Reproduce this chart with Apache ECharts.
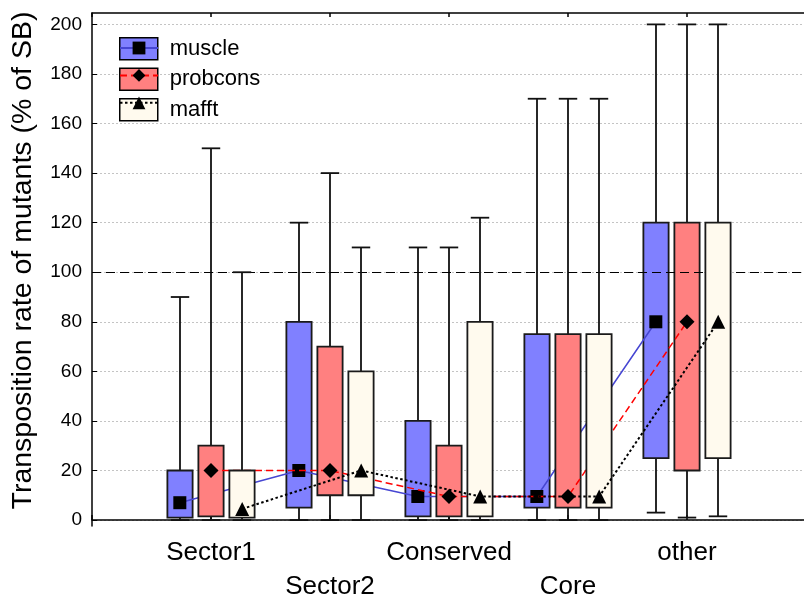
<!DOCTYPE html>
<html>
<head>
<meta charset="utf-8">
<script src="https://cdn.jsdelivr.net/npm/echarts@6/dist/echarts.min.js"></script>
<style>html,body{margin:0;padding:0;background:#fff;overflow:hidden;}#chart{width:804px;height:598px;}</style>
</head>
<body>
<div id="chart"></div>
<script>
// ---- data ----
var categories = ['Sector1', 'Sector2', 'Conserved', 'Core', 'other'];
var yTicks = [0, 20, 40, 60, 80, 100, 120, 140, 160, 180, 200];
var referenceLine = 100;

var muscleLow  = [0, 0, 0, 0, 3];
var muscleQ1   = [1, 5, 1.5, 5, 25];
var muscleMed  = [7, 20, 9.5, 9.5, 80];
var muscleQ3   = [20, 80, 40, 75, 120];
var muscleHigh = [90, 120, 110, 170, 200];

var probconsLow  = [0, 0, 0, 0, 1];
var probconsQ1   = [1.5, 10, 1.5, 5, 20];
var probconsMed  = [20, 20, 9.5, 9.5, 80];
var probconsQ3   = [30, 70, 30, 75, 120];
var probconsHigh = [150, 140, 110, 170, 200];

var mafftLow  = [0, 0, 0, 0, 1.5];
var mafftQ1   = [1, 10, 1.5, 5, 25];
var mafftMed  = [4.5, 20, 9.5, 9.5, 80];
var mafftQ3   = [20, 60, 80, 75, 120];
var mafftHigh = [100, 110, 122, 170, 200];

// ---- layout / style ----
var FONT = 'Liberation Sans, Arial, Helvetica, sans-serif';
var OFFSETS = [-0.262, 0, 0.262];
var BOX_W = 0.212;
var CAP_W = 0.155;

function boxSeries(name, k, low, q1, q3, high, color, z) {
  return {
    type: 'custom',
    name: name,
    z: z,
    itemStyle: { color: color, borderColor: '#000', borderWidth: 1.5 },
    data: categories.map(function (c, i) { return [i + 1 + OFFSETS[k], low[i], q1[i], q3[i], high[i]]; }),
    encode: { x: 0, y: [1, 2, 3, 4] },
    renderItem: function (params, api) {
      var x = api.value(0);
      var pL = api.coord([x, api.value(1)]);
      var p1 = api.coord([x, api.value(2)]);
      var p3 = api.coord([x, api.value(3)]);
      var pH = api.coord([x, api.value(4)]);
      var hw = api.size([BOX_W, 0])[0] / 2;
      var cw = api.size([CAP_W, 0])[0] / 2;
      var cx = Math.round(pL[0]);
      var st = { stroke: '#111', lineWidth: 1.8 };
      return {
        type: 'group',
        children: [
          { type: 'line', shape: { x1: cx, y1: pL[1], x2: cx, y2: pH[1] }, style: st },
          { type: 'line', shape: { x1: cx - cw, y1: pL[1], x2: cx + cw, y2: pL[1] }, style: st },
          { type: 'line', shape: { x1: cx - cw, y1: pH[1], x2: cx + cw, y2: pH[1] }, style: st },
          { type: 'rect', shape: { x: cx - hw, y: p3[1], width: 2 * hw, height: p1[1] - p3[1] },
            style: { fill: color, stroke: '#1a1a1a', lineWidth: 1.8 } }
        ]
      };
    }
  };
}

function medianSeries(name, k, med, lineColor, lineType, lineWidth, symbol, symbolSize, z) {
  return {
    type: 'line',
    name: name,
    z: z,
    data: categories.map(function (c, i) { return [i + 1 + OFFSETS[k], med[i]]; }),
    symbol: symbol,
    symbolSize: symbolSize,
    showAllSymbol: true,
    itemStyle: { color: '#000' },
    lineStyle: { color: lineColor, type: lineType, width: lineWidth },
    animation: false
  };
}

var series = [
  {
    type: 'line', name: 'ref', data: [], z: 1, silent: true,
    markLine: {
      silent: true, symbol: ['none', 'none'], label: { show: false },
      lineStyle: { color: '#000', type: [9, 5], width: 1 },
      data: [{ yAxis: referenceLine }]
    }
  },
  boxSeries('muscle', 0, muscleLow, muscleQ1, muscleQ3, muscleHigh, '#8080ff', 2),
  medianSeries('muscle median', 0, muscleMed, '#4646d2', 'solid', 1.5, 'rect', 13, 3),
  boxSeries('probcons', 1, probconsLow, probconsQ1, probconsQ3, probconsHigh, '#ff8080', 4),
  medianSeries('probcons median', 1, probconsMed, '#ff0000', [7, 4], 1.5, 'diamond', 15, 5),
  boxSeries('mafft', 2, mafftLow, mafftQ1, mafftQ3, mafftHigh, '#fffaee', 6),
  medianSeries('mafft median', 2, mafftMed, '#000', [2.5, 2.5], 2, 'triangle', 14, 7)
];

var chart = echarts.init(document.getElementById('chart'), null, { renderer: 'canvas' });
chart.setOption({
  animation: false,
  backgroundColor: '#fff',
  textStyle: { fontFamily: FONT },
  grid: { left: 92, right: -2, top: 13, bottom: 72, containLabel: false, outerBoundsMode: 'none' },
  legend: [
    {
      left: 119, top: 37, orient: 'vertical', padding: 0, z: 20,
      itemWidth: 38, itemHeight: 22, itemGap: 7, selectedMode: false,
      textStyle: { fontSize: 22, color: '#000', fontFamily: FONT, padding: [0, 0, 0, 7] },
      data: [
        { name: 'muscle', icon: 'rect', itemStyle: { color: '#8080ff', borderColor: '#000', borderWidth: 1.5 } },
        { name: 'probcons', icon: 'rect', itemStyle: { color: '#ff8080', borderColor: '#000', borderWidth: 1.5 } },
        { name: 'mafft', icon: 'rect', itemStyle: { color: '#fffaee', borderColor: '#000', borderWidth: 1.5 } }
      ]
    },
    {
      left: 119, top: 40, orient: 'vertical', padding: 0, z: 21,
      itemWidth: 38, itemHeight: 16, itemGap: 13, selectedMode: false,
      formatter: function () { return ''; },
      textStyle: { fontSize: 8 },
      data: ['muscle median', 'probcons median', 'mafft median']
    }
  ],
  xAxis: [
    {
      type: 'value', min: 0, max: 6, interval: 1,
      axisLine: { show: true, lineStyle: { color: '#000', width: 1.5 } },
      axisTick: { show: true, inside: true, length: 5, lineStyle: { color: '#000', width: 1.5 } },
      splitLine: { show: false },
      axisLabel: {
        show: true, margin: 10, fontSize: 26, color: '#000', fontFamily: FONT, lineHeight: 34,
        formatter: function (v) {
          if (v < 1 || v > 5) return '';
          var name = categories[v - 1];
          return (v % 2 === 0) ? '\n' + name : name;
        }
      }
    },
    {
      type: 'value', min: 0, max: 6, interval: 1, position: 'top',
      axisLine: { show: true, lineStyle: { color: '#000', width: 1.5 } },
      axisTick: { show: true, inside: true, length: 4, lineStyle: { color: '#000', width: 1.5 } },
      splitLine: { show: false },
      axisLabel: { show: false }
    }
  ],
  yAxis: {
    type: 'value', min: -2.4, max: 204.6,
    name: 'Transposition rate of mutants (% of SB)',
    nameLocation: 'middle', nameGap: 54, nameRotate: 90,
    nameTextStyle: { fontSize: 28.5, color: '#000', fontFamily: FONT, padding: [0, 0, 0, 18] },
    axisLine: { show: true, lineStyle: { color: '#000', width: 1.5 } },
    axisTick: { show: true, inside: true, length: 5, customValues: yTicks, lineStyle: { color: '#000', width: 1 } },
    axisLabel: { show: true, customValues: yTicks, margin: 10, fontSize: 19, color: '#000', fontFamily: FONT },
    splitLine: { show: true, lineStyle: { color: '#c4c4c4', type: [2, 2], width: 1 } }
  },
  series: series
});
</script>
</body>
</html>
